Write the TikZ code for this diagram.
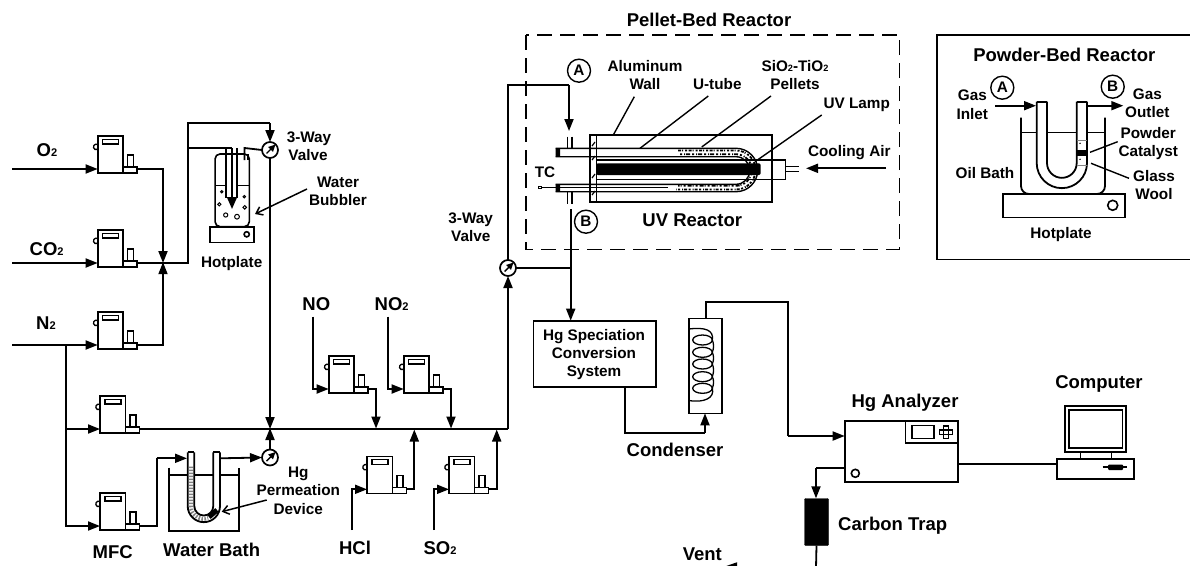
\documentclass[tikz,border=0pt]{standalone}
\usepackage{fontspec}
\setmainfont{Liberation Sans}
\usetikzlibrary{arrows.meta,calc}
\newcommand{\subtwo}{\scalebox{.6}{2}}
\tikzset{
  pipe/.style={line width=1.8pt,line join=miter},
  main/.style={line width=1.9pt},
  part/.style={draw,line width=1.6pt,inner sep=0pt,outer sep=0pt},
  tip/.style={-{Triangle[length=12pt,width=9pt]}},
  barb/.style={-{Straight Barb[length=6pt,width=9pt]}},
  lab/.style={anchor=base,inner sep=0pt,font=\bfseries\fontsize{18.5}{21}\selectfont},
  sm/.style={anchor=base,inner sep=0pt,align=center,font=\bfseries\fontsize{15.3}{18}\selectfont},
  letter/.style={circle,draw,line width=1.4pt,minimum size=23pt,inner sep=0pt,font=\bfseries\fontsize{15.3}{18}\selectfont},
  valvec/.style={circle,draw,fill=white,line width=1.7pt,minimum size=16pt,inner sep=0pt,outer sep=0pt},
}
% box by corners
\newcommand{\bx}[6][]{%
  \pgfmathsetmacro{\bxcx}{(#3+#5)/2}\pgfmathsetmacro{\bxcy}{(#4+#6)/2}%
  \pgfmathsetmacro{\bxw}{#5-#3}\pgfmathsetmacro{\bxh}{#6-#4}%
  \node[part,minimum width=\bxw pt,minimum height=\bxh pt,#1] (#2) at (\bxcx,\bxcy) {};}
% mass flow controller: origin = inlet point
\newcommand{\mfc}[3]{%
  \begin{scope}[shift={(#2,#3)}]
    \bx[line width=1.6pt]{#1}{0}{-33}{25.5}{4}
    \bx[line width=1.6pt]{#1-foot}{25.5}{-2}{39.5}{4}
    \bx[line width=1.5pt]{#1-tab}{30}{-14}{36}{-2}
    \bx[line width=1.3pt]{#1-disp}{5}{-29.5}{21}{-25}
    \draw[line width=1.3pt] (0,-24.5) arc[start angle=60,end angle=300,radius=2.8pt];
    \coordinate (#1-in) at (0,0);
    \coordinate (#1-out) at (39.5,0);
  \end{scope}}
\newcommand{\valve}[3]{%
  \node[valvec] (#1) at (#2,#3) {};
  \draw[line width=1.4pt,-{Triangle[length=7pt,width=6.5pt]}] ($(#1)+(-3.5,3.5)$) -- ($(#1)+(5.5,-5.5)$);}
\begin{document}
\begin{tikzpicture}[x=1pt,y=-1pt]
\useasboundingbox (0,0) rectangle (1190,565);
\clip (0,0) rectangle (1190,565);

% ---------- mass flow controllers
\mfc{mO}{97.7}{169}
\mfc{mC}{97.7}{263}
\mfc{mN}{97.7}{345}
\mfc{mA}{100}{429}
\mfc{mB}{100}{526}
\mfc{mNO}{328.7}{389}
\mfc{mNT}{403.7}{389}
\mfc{mH}{367}{489.3}
\mfc{mS}{449}{489.3}

% ---------- free ends and junctions
\coordinate (sO) at (12,169);
\coordinate (sC) at (12,263);
\coordinate (sN) at (12,345);
\coordinate (bN) at (66,345);
\coordinate (bA) at (66,429);
\coordinate (j1) at (163,263);
\coordinate (j2) at (188,148);
\coordinate (jm) at (270,429);
\coordinate (e) at (508,429);
\coordinate (sNO) at (313.3,316.7);
\coordinate (sNT) at (388.3,316.7);
\coordinate (sH) at (351.7,530);
\coordinate (sS) at (433.7,530);
\coordinate (jNO) at (376,428.5);
\coordinate (jNT) at (451,428.5);
\coordinate (jH) at (414.3,429.5);
\coordinate (jS) at (496.7,429.5);

% ---------- valves
\valve{v1}{270}{150}
\valve{v2}{270}{457.5}
\valve{v3}{508}{268}

% ---------- feed lines
\draw[pipe,tip] (sO) -- (mO-in);
\draw[pipe,tip] (sC) -- (mC-in);
\draw[pipe,tip] (sN) -- (mN-in);
\draw[pipe,tip] (bA) -- (mA-in);
\draw[pipe,tip] (bN) |- (mB-in);
\draw[pipe,tip] (mO-out) -| (j1);
\draw[pipe,tip] (mN-out) -| ([yshift=0.8pt]j1);
\draw[pipe] (mC-out) -- (188,263) -- (188,123) -- (270,123);
\draw[pipe,tip] (270,123) -- (v1.north);
\draw[pipe,tip] (v1.south) -- (jm);
\draw[pipe,tip] (v2.north) -- ([yshift=1pt]jm);
\draw[main] (mA-out) -- (e);
\draw[pipe,tip] (e) -- (v3.south);
\draw[pipe,tip] (sNO) |- (mNO-in);
\draw[pipe,tip] (sNT) |- (mNT-in);
\draw[pipe,tip] (sH) |- (mH-in);
\draw[pipe,tip] (sS) |- (mS-in);
\draw[pipe,tip] (mNO-out) -| (jNO);
\draw[pipe,tip] (mNT-out) -| (jNT);
\draw[pipe,tip] (mH-out) -| (jH);
\draw[pipe,tip] (mS-out) -| (jS);

% ---------- water bubbler
\node[part,rounded corners=5pt,minimum width=34.3pt,minimum height=72.7pt] (bub) at (232.2,190.3) {};
\draw[line width=1.3pt] (215,185.7) -- (226,185.7) (237,185.7) -- (249.3,185.7);
\draw[line width=1.4pt] (226,148) -- (226,198) (237,148) -- (237,198);
\draw[pipe] (j2) -- (232,148);
\draw[pipe,-{Triangle[length=12pt,width=10pt]}] (232,148) -- (232,209);
\draw[pipe] (v1.west) -- (244.5,148) -- (244.5,160);
\draw[line width=1.2pt] (248,154) -- (248,160);
\foreach \bxa/\bya/\r in {221.7/191.7/1.2,244.3/196.7/1.2,219.3/204.3/1.6,244.7/207.3/1.8,225.7/215/2.1,237/216.7/2.4}
  \draw[line width=1pt] (\bxa,\bya) circle[radius=\r pt];
\bx{hot1}{210}{226.7}{254}{242.3}
\draw[line width=1.6pt] (246.7,234.3) circle[radius=2.6pt];
\draw[line width=1.5pt,barb] (307,189) -- (255,214);

% ---------- permeation tube in water bath
\draw[pipe] (169.3,467.7) -- (169.3,531) -- (238.7,531) -- (238.7,467.7);
\draw[line width=1.3pt] (169.3,475) -- (187.7,475) (194.3,475) -- (213.3,475) (220,475) -- (238.7,475);
\draw[line width=4pt,gray,dash pattern=on 1.5pt off 1.5pt] (191,466.7) -- (191,506) arc[start angle=180,end angle=290,radius=12.8pt];
\draw[pipe] (187.7,452.3) -- (194.3,452.3);
\draw[pipe] (213.3,452.3) -- (220,452.3);
\draw[pipe] (187.7,452.3) -- (187.7,506) arc[start angle=180,end angle=360,radius=16.15pt] -- (220,452.3);
\draw[pipe] (194.3,452.3) -- (194.3,506) arc[start angle=180,end angle=360,radius=9.5pt] -- (213.3,452.3);
\draw[line width=5pt,black] (209,517) -- (217,510);
\coordinate (uin) at (187,458.3);
\coordinate (uout) at (220,458.3);
\draw[pipe] (mB-out) -- (156.7,526) -- (156.7,458.3);
\draw[pipe,tip] (156.7,458.3) -- (uin);
\draw[pipe,tip] (uout) -- (v2.west);
\draw[line width=1.5pt,barb] (266.7,500) -- (221.7,511.7);

% ---------- pellet-bed reactor
\draw[line width=1.6pt,dash pattern=on 15pt off 8pt] (525.7,35) rectangle (899.3,249.3);
\bx{wall}{589.7}{135}{771.7}{201.7}
\draw[line width=1.5pt] (596.7,135) -- (596.7,201.7);
\draw[line width=1.4pt] (596.7,160) -- (785.3,160) -- (785.3,179.3) -- (596.7,179.3);
\draw[line width=1.2pt] (785.3,166.7) -- (799.3,166.7) (785.3,171.7) -- (799.3,171.7);
\fill[rounded corners=2pt] (596,163.3) rectangle (760.7,175);
% packing
\draw[line width=1.8pt,dash pattern=on 3pt off 1pt on 1pt off 2pt on 2pt off 1.5pt] (678,150.5) -- (736,150.5) arc[start angle=90,end angle=-90,radius=19.5pt] -- (676,189.5);
\draw[line width=1.8pt,dash pattern=on 2pt off 2pt on 1pt off 1pt on 4pt off 2pt] (680,154.2) -- (736,154.2) arc[start angle=90,end angle=-90,radius=15.8pt] -- (678,185.8);
% U tube
\draw[line width=1.4pt] (555.7,148.3) -- (736,148.3) arc[start angle=90,end angle=-90,radius=21.7pt] -- (555.7,191.7);
\draw[line width=1.4pt] (555.7,156.7) -- (736,156.7) arc[start angle=90,end angle=-90,radius=13.8pt] -- (555.7,184.3);
\fill (555.7,148.3) rectangle (560,156.7) (555.7,184.3) rectangle (560,191.7);
\draw[line width=1.3pt] (567.3,136.7) -- (567.3,148.3) (572,136.7) -- (572,148.3);
\draw[line width=1.3pt] (567.3,191.7) -- (567.3,204) (572,191.7) -- (572,204);
\draw[line width=1.3pt] (541,187.3) -- (668,187.3);
\draw[line width=1pt] (538.7,186) rectangle (541.3,188.6);
\foreach \my in {144,158,176,193} \draw[line width=1.2pt] (592,\my+2) -- (595,\my-2);
% reactor connections
\coordinate (aTop) at (569,85);
\coordinate (aIn) at (569,131);
\coordinate (bOut) at (570.7,209);
\coordinate (bJ) at (570.7,268);
\draw[pipe] (v3.north) |- (aTop);
\draw[pipe,tip] (aTop) -- (aIn);
\draw[pipe] (v3.east) -- (bJ);
\node[letter] (A1) at (579,70.7) {A};
\node[letter] (B1) at (586,221.7) {B};
\node[lab] (tPellet) at (709,26.7) {Pellet-Bed Reactor};
\node[sm] (tAl) at (645,71) {Aluminum};
\node[sm] (tAl2) at (645,89.3) {Wall};
\node[sm] (tU) at (717.3,89.3) {U-tube};
\node[sm] (tSi) at (795,71) {SiO\subtwo-TiO\subtwo};
\node[sm] (tPe) at (795,89.3) {Pellets};
\node[sm] (tUV) at (856.7,108.3) {UV Lamp};
\node[sm] (tCool) at (849.3,156) {Cooling Air};
\node[sm] (tTC) at (545,177.7) {TC};
\node[lab] (tUVR) at (692.3,226) {UV Reactor};
\draw[line width=1.4pt] (634.3,96.7) -- (613.3,135);
\draw[line width=1.4pt] (708.3,96) -- (640,148.3);
\draw[line width=1.4pt] (771,96) -- (701.7,147);
\draw[line width=1.4pt] (821.7,115) -- (755,161.7);
\coordinate (cS) at (886,168.3);
\coordinate (cE) at (806,168.3);
\draw[pipe,tip] (cS) -- (cE);

% ---------- speciation box, condenser, analyzer
\bx{hgs}{533.3}{320.7}{655.7}{386.7}
\draw[pipe,tip] (bOut) -- (570.7,320.7);
\node[sm] (tHg1) at (594,340) {Hg Speciation};
\node[sm] (tHg2) at (594,358.3) {Conversion};
\node[sm] (tHg3) at (594,376.7) {System};
\bx{cond}{688.7}{318.3}{721.7}{413.3}
\foreach \cy in {340,352.3,364,376.7,388.3}
  \draw[line width=1.3pt] (702.5,\cy) ellipse[x radius=9.8pt,y radius=5pt];
\draw[line width=1.3pt] (689,329) .. controls (705,327) and (714,330) .. (712.3,340)
  .. controls (714,344) and (714,348) .. (712.3,352.3)
  .. controls (714,356) and (714,360) .. (712.3,364)
  .. controls (714,368) and (714,372) .. (712.3,376.7)
  .. controls (714,380) and (714,384) .. (712.3,388.3)
  .. controls (715,398) and (704,403) .. (689,400.5);
\coordinate (cj) at (705,432.7);
\draw[pipe] (hgs.south -| 625.3,0) -- (625.3,432.7) -- (cj);
\draw[pipe,tip] (cj) -- (cond.south -| cj);
\bx{ana}{844.7}{421}{957.7}{481.7}
\bx{anap}{905.3}{421}{957.7}{442.7}
\bx[line width=1.4pt]{anad}{912}{425.7}{934}{438.7}
\draw[line width=1.3pt] (939.5,430) rectangle (952.5,434.8) (943.6,426) rectangle (948.4,438.8);
\draw[line width=1.6pt] (855.3,473.3) circle[radius=4pt];
\draw[pipe] (706,318.3) -- (706,301.7) -- (788,301.7) -- (788,436);
\draw[pipe,tip] (788,436) -- (844.7,436);
\coordinate (tr) at (816,467.7);
\draw[pipe] (844.7,467.7) -- (tr);
\draw[pipe,tip] (tr) -- (816,498.3);
\node[fill=black,draw=black,rounded corners=1pt,minimum width=24pt,minimum height=47pt,inner sep=0pt,outer sep=0pt] (trap) at (816.5,522) {};
\coordinate (vb) at (816,567.5);
\coordinate (vt) at (722,567.5);
\draw[pipe] (trap.south) -- (vb);
\draw[pipe,-{Triangle[length=15pt,width=10pt]}] (vb) -- (vt);

% ---------- computer
\bx{mon}{1065}{405.7}{1125.7}{451.7}
\bx{scr}{1068.7}{410}{1122.5}{447.7}
\bx{pc}{1057}{459}{1134}{478.7}
\draw[line width=1.5pt] (1080.7,451.7) -- (1080.7,459) (1111.7,451.7) -- (1111.7,459);
\draw[line width=2pt] (1102.7,467.3) -- (1127,467.3);
\fill[rounded corners=1pt] (1108,464.5) rectangle (1123,470);
\draw[pipe] (957.7,463.7) -- (1057,463.7);

% ---------- powder-bed reactor
\draw[line width=1.6pt] (1190,35) -- (936.7,35) -- (936.7,259.3) -- (1190,259.3);
\draw[pipe,rounded corners=8pt] (1021,117.7) -- (1021,194) -- (1105,194) -- (1105,117.7);
\draw[line width=1.4pt] (1021,132.7) -- (1036.7,132.7) (1047,132.7) -- (1076.7,132.7) (1087,132.7) -- (1105,132.7);
\draw[pipe] (1036.7,101.7) -- (1047,101.7) (1076.7,101.7) -- (1087,101.7);
\draw[pipe] (1036.7,101.7) -- (1036.7,163) arc[start angle=180,end angle=360,radius=25.15pt] -- (1087,101.7);
\draw[pipe] (1047,101.7) -- (1047,163) arc[start angle=180,end angle=360,radius=14.85pt] -- (1076.7,101.7);
\draw[line width=.8pt,gray] (1076.7,140) -- (1087,140) (1076.7,165) -- (1087,165);
\fill (1076.7,150) rectangle (1087,156);
\fill (1080,143.3) circle[radius=.8pt] (1080,159.3) circle[radius=.8pt];
\bx{hot2}{1002.7}{194}{1125}{217.3}
\draw[line width=1.6pt] (1112.7,205.3) circle[radius=5pt];
\coordinate (gI) at (995,105.7);
\coordinate (gO) at (1123.3,105.7);
\draw[pipe,tip] (gI) -- (1036,105.7);
\draw[pipe,tip] (1087,105.7) -- (gO);
\draw[line width=1.4pt] (1117.7,141.7) -- (1090,152.3);
\draw[line width=1.4pt] (1129,178.3) -- (1091,163.3);
\node[letter] (A2) at (1002.3,87.7) {A};
\node[letter] (B2) at (1112.7,86.7) {B};
\node[lab] (tPow) at (1064.3,61.7) {Powder-Bed Reactor};
\node[sm] (tG1) at (972.3,100) {Gas};
\node[sm] (tG2) at (972.3,119) {Inlet};
\node[sm] (tG3) at (1147.3,99.3) {Gas};
\node[sm] (tG4) at (1147.3,117.3) {Outlet};
\node[sm] (tP1) at (1148.3,138.3) {Powder};
\node[sm] (tP2) at (1148.3,156.7) {Catalyst};
\node[sm] (tGW1) at (1154,181.7) {Glass};
\node[sm] (tGW2) at (1154,199.3) {Wool};
\node[sm] (tOil) at (985,178.3) {Oil Bath};
\node[sm] (tHot2) at (1061,238.3) {Hotplate};

% ---------- labels
\node[lab] (tO) at (47,156) {O\subtwo};
\node[lab] (tC) at (46.7,255) {CO\subtwo};
\node[lab] (tN) at (46,329) {N\subtwo};
\node[lab] (tMFC) at (112.7,558.3) {MFC};
\node[lab] (tWB) at (211.7,556.7) {Water Bath};
\node[sm] (tHot1) at (231.7,267.7) {Hotplate};
\node[sm] (tV1a) at (309,142.7) {3-Way};
\node[sm] (tV1b) at (308,160.7) {Valve};
\node[sm] (tW1) at (338,187.3) {Water};
\node[sm] (tW2) at (338,205) {Bubbler};
\node[sm] (tV2a) at (470.7,223.3) {3-Way};
\node[sm] (tV2b) at (470.7,241) {Valve};
\node[sm] (tD1) at (298.3,477.3) {Hg};
\node[sm] (tD2) at (298.3,495.7) {Permeation};
\node[sm] (tD3) at (298.3,514) {Device};
\node[lab] (tNO) at (316.3,310.7) {NO};
\node[lab] (tNT) at (391.7,310.7) {NO\subtwo};
\node[lab] (tHCl) at (355,554) {HCl};
\node[lab] (tSO) at (440,554) {SO\subtwo};
\node[lab] (tCond) at (675,456.7) {Condenser};
\node[lab] (tAna) at (905,407.3) {Hg Analyzer};
\node[lab] (tComp) at (1099,388.3) {Computer};
\node[lab] (tTrap) at (892.7,530) {Carbon Trap};
\node[lab] (tVent) at (702.3,560.7) {Vent};
\end{tikzpicture}
\end{document}
